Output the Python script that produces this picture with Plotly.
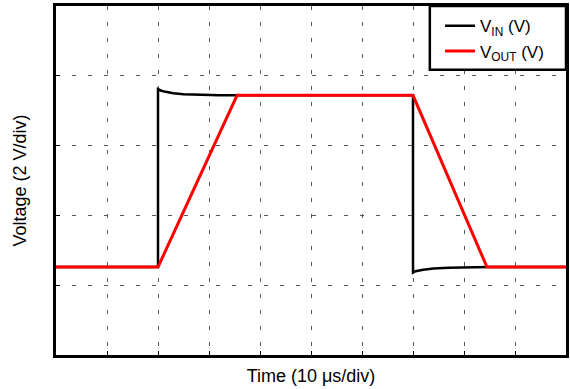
import plotly.graph_objects as go

# Time and voltage in divisions (10 us/div, 2 V/div)
vin_t = [0.0, 2.0, 2.0, 2.05, 2.15, 2.3, 2.5, 2.8, 3.2, 3.6, 7.0, 7.0, 7.05, 7.2, 7.4, 7.7, 8.1, 8.5, 10.0]
vin_v = [1.26, 1.26, 3.81, 3.79, 3.77, 3.75, 3.735, 3.725, 3.72, 3.72, 3.72, 1.18, 1.2, 1.22, 1.24, 1.25, 1.26, 1.26, 1.26]

vout_t = [0.0, 2.0, 3.55, 7.0, 8.45, 10.0]
vout_v = [1.26, 1.26, 3.72, 3.72, 1.26, 1.26]

fig = go.Figure()
fig.add_trace(go.Scatter(x=vin_t, y=vin_v, mode="lines", name="V<sub>IN</sub> (V)",
                         line=dict(color="black", width=2.5)))
fig.add_trace(go.Scatter(x=vout_t, y=vout_v, mode="lines", name="V<sub>OUT</sub> (V)",
                         line=dict(color="#ff0000", width=3)))

axis = dict(showline=True, mirror=True, linecolor="black", linewidth=2.5,
            showgrid=True, gridcolor="#555555", griddash="4px,12px", gridwidth=1,
            showticklabels=False, ticks="inside", ticklen=4, tickcolor="black",
            zeroline=False, dtick=1, automargin=False)

fig.update_xaxes(axis, range=[0, 10], title=dict(text="Time (10 μs/div)", standoff=13))
fig.update_yaxes(axis, range=[0, 5], title=dict(text="Voltage (2 V/div)", standoff=22))

# legend frame in the top right corner of the plot
fig.add_shape(type="rect", xref="paper", yref="paper", x0=0.733, x1=1, y0=0.817, y1=1,
              line=dict(color="black", width=2.5), fillcolor="white", layer="above")

fig.update_layout(
    width=570, height=389,
    margin=dict(l=56, r=4, t=6, b=34, autoexpand=False),
    plot_bgcolor="white", paper_bgcolor="white",
    font=dict(family="Liberation Sans, Arial, sans-serif", size=15, color="black"),
    legend=dict(x=0.753, y=0.906, xanchor="left", yanchor="middle",
                borderwidth=0, bgcolor="rgba(0,0,0,0)",
                font=dict(size=17), tracegroupgap=0),
)

# the page body has a default 8px margin; drop it so the figure fills the window
fig.write_html("out.html", config={"displayModeBar": False},
               post_script="document.body.style.margin='0';")
